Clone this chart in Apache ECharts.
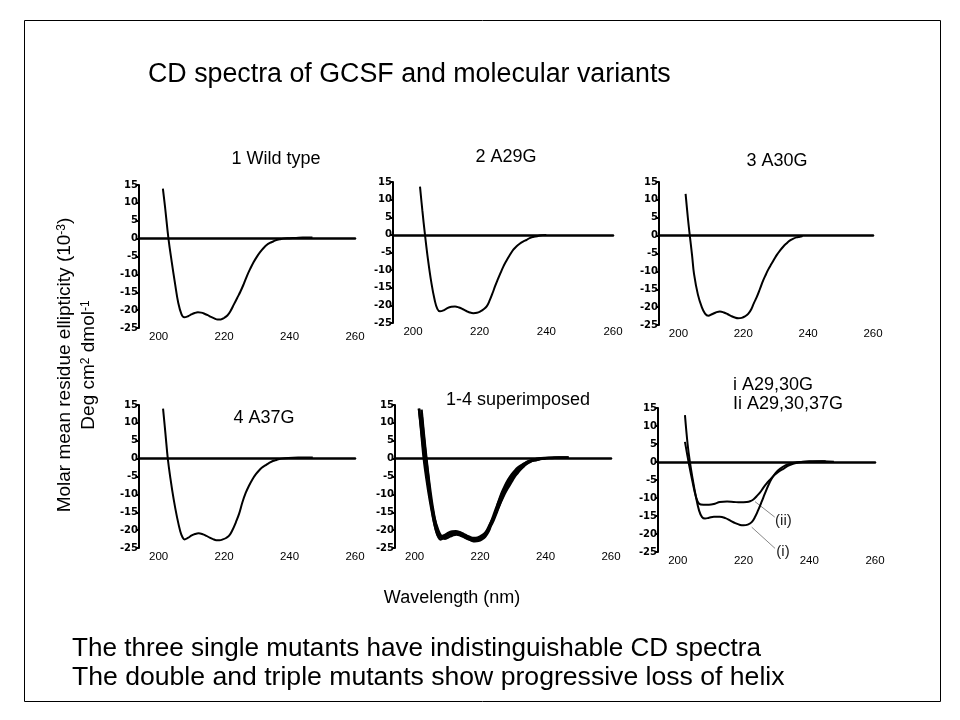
<!DOCTYPE html>
<html>
<head>
<meta charset="utf-8">
<title>CD spectra of GCSF and molecular variants</title>
<script src="https://cdn.jsdelivr.net/npm/echarts@6.0.0/dist/echarts.min.js"></script>
<style>
  html, body { margin: 0; padding: 0; background: #fff; }
  #main { width: 960px; height: 720px; }
</style>
</head>
<body>
<div id="main"></div>
<script>
// [wavelength nm, ellipticity 10^-3]
var wildType = [[201.3, 14], [202, 8.5], [203, 0], [204, -6.5], [205, -12.5], [206, -18], [207, -21.2], [207.8, -22],
  [209, -21.7], [210, -21.2], [211, -20.8], [212, -20.6], [213, -20.7], [214, -21.0], [215, -21.4], [216, -21.9],
  [217, -22.3], [218, -22.6], [219, -22.6], [220, -22.2], [221, -21.5], [222, -20.2], [223, -18.4], [224, -16.6],
  [225, -14.8], [226, -12.7], [227, -10.4], [228, -8.4], [229, -6.6], [230, -5.1], [231, -3.8], [232, -2.7],
  [233, -1.8], [234, -1.2], [235, -0.8], [236, -0.4], [237, -0.2], [238, 0], [240, 0.1], [242, 0.2], [244, 0.3], [247, 0.3]];

var a29g = [[202.1, 13.7], [202.8, 7], [203.6, 0], [204.5, -7], [205.5, -13.5], [206.5, -18.5], [207.3, -21], [208.1, -21.7],
  [209.2, -21.4], [210.3, -20.8], [211.5, -20.4], [212.6, -20.3], [213.8, -20.6], [215, -21.1], [216, -21.6], [217, -22.0],
  [218.1, -22.2], [219.2, -22.1], [220.2, -21.7], [221.2, -21.1], [222.1, -20.3], [223, -18.6], [224, -16.2], [224.6, -14.6],
  [225.5, -12.5], [226.3, -10.7], [227.1, -9.0], [228, -7.4], [229, -5.8], [230.1, -4.2], [231, -3.3], [232, -2.5],
  [233, -1.9], [234.1, -1.4], [235, -0.9], [236, -0.6], [237.1, -0.4], [238, -0.2], [240, 0]];

var a30g = [[202.2, 11.7], [202.9, 5], [203.5, 0], [204.2, -5.5], [204.8, -10.7], [206, -16.5], [207.2, -20], [208.2, -21.8],
  [209.2, -22.4], [210.3, -22.0], [211.5, -21.5], [212.8, -21.2], [214, -21.5], [215.2, -22.0], [216.3, -22.5], [217.4, -22.9],
  [218.4, -23.1], [219.5, -23.0], [220.5, -22.6], [221.5, -21.9], [222.5, -20.5], [223.3, -18.8], [224.1, -17.3], [225.1, -15.0],
  [226.1, -12.6], [227, -10.8], [227.8, -9.3], [228.7, -7.9], [229.6, -6.5], [230.4, -5.3], [231.3, -4.2], [232.3, -3.1],
  [233.3, -2.2], [234.3, -1.4], [235.3, -0.9], [236.4, -0.5], [237.4, -0.3], [238.3, -0.1]];

var a37g = [[201.35, 14], [202.1, 6.8], [202.8, 0], [203.6, -5.5], [204.6, -11.4], [205.6, -16.3], [206.6, -20.3], [207.3, -22.0],
  [207.9, -22.6], [208.9, -22.2], [210.1, -21.5], [211.1, -21.1], [212.2, -20.9], [213.6, -21.2], [214.6, -21.6], [215.6, -22.1],
  [216.6, -22.5], [217.6, -22.8], [218.6, -22.8], [219.6, -22.6], [220.6, -22.2], [221.6, -21.5], [222.6, -19.9], [223.6, -17.8],
  [224.6, -15.4], [225.6, -12.2], [226.6, -9.6], [227.6, -7.6], [228.6, -5.9], [229.6, -4.5], [230.6, -3.4], [231.6, -2.5],
  [232.6, -1.9], [233.6, -1.3], [234.6, -0.8], [235.6, -0.5], [236.6, -0.2], [237.6, 0], [239.6, 0.2], [242.6, 0.3], [247.1, 0.3]];

// (i) double mutant, (ii) triple mutant
var a2930g = [[202.2, 13], [203, 5], [203.7, 0], [204.5, -4.5], [205.5, -9.5], [206.5, -13.5], [207.4, -15.3], [208.3, -15.7],
  [209.5, -15.5], [211, -15.2], [212.8, -15.2], [214.5, -15.6], [216, -16.3], [217.5, -17.0], [219, -17.5], [220, -17.6],
  [221.3, -17.4], [222.5, -16.7], [223.5, -15.3], [224.5, -13.3], [225.5, -11.1], [226.5, -8.8], [227.5, -6.6], [228.6, -4.6],
  [229.8, -3.0], [231.1, -1.9], [232.6, -1.0], [234.1, -0.5], [235.6, -0.2], [237.2, 0], [240, 0.2], [244, 0.2], [247.5, 0.1]];

var a293037g = [[202.2, 5.6], [202.8, 2.5], [203.5, -1], [204.5, -5.5], [205.5, -9.5], [206.5, -11.6], [207.8, -11.9], [209.5, -11.9],
  [211.3, -11.6], [212.8, -11.1], [215, -11.0], [217, -11.1], [219, -11.2], [221, -11.1], [222, -10.9], [223, -10.4],
  [224, -9.5], [225, -8.5], [226, -7.2], [227, -6.0], [228, -5.0], [229, -4.0], [230, -3.2], [231, -2.5],
  [232.1, -1.9], [233.5, -1.1], [235.1, -0.5], [236.5, -0.2], [238, 0], [241, 0.1], [245, 0.2]];

var xTicks = [200, 220, 240, 260];
var xMin = 194, xMax = 260;
var yMin = -25, yMax = 15, yStep = 5;

var FONT = 'Liberation Sans, Arial, sans-serif';

var myChart = echarts.init(document.getElementById('main'));

// one grid per panel
var boxes = [
  { left: 139, top: 185, width: 216, height: 143 },
  { left: 393, top: 182, width: 220, height: 141 },
  { left: 659, top: 182, width: 214, height: 143 },
  { left: 139, top: 405, width: 216, height: 143 },
  { left: 395, top: 405, width: 216, height: 143 },
  { left: 658, top: 408, width: 217, height: 144 }
];

var grids = [], xAxes = [], yAxes = [];
boxes.forEach(function (b, i) {
  grids.push({ left: b.left, top: b.top, width: b.width, height: b.height, containLabel: false });
  xAxes.push({
    gridIndex: i, type: 'value', min: xMin, max: xMax,
    axisLine: { onZero: true, lineStyle: { color: '#000', width: 2.5 } },
    axisTick: { show: false },
    splitLine: { show: false },
    axisLabel: { customValues: xTicks, color: '#000', fontSize: 11.5, fontFamily: FONT, margin: 3 }
  });
  yAxes.push({
    gridIndex: i, type: 'value', min: yMin, max: yMax, interval: yStep,
    axisLine: { show: true, onZero: false, lineStyle: { color: '#000', width: 2 } },
    axisTick: { show: true, length: 3, lineStyle: { color: '#000', width: 2 } },
    splitLine: { show: false },
    axisLabel: { color: '#000', fontSize: 10, fontWeight: 'bold', fontFamily: 'DejaVu Sans, sans-serif', margin: 1 }
  });
});

function curve(data, panel, width) {
  return {
    type: 'line', xAxisIndex: panel, yAxisIndex: panel, data: data,
    showSymbol: false, smooth: 0.4, silent: true,
    lineStyle: { color: '#000', width: width || 2 }
  };
}

var series = [
  curve(wildType, 0), curve(a29g, 1), curve(a30g, 2), curve(a37g, 3),
  curve(wildType, 4, 2.5), curve(a29g, 4, 2.5), curve(a30g, 4, 2.5), curve(a37g, 4, 2.5),
  curve(a2930g, 5), curve(a293037g, 5)
];

var option = {
  backgroundColor: '#fff',
  animation: false,
  grid: grids,
  xAxis: xAxes,
  yAxis: yAxes,
  series: series
};
myChart.setOption(option);

// texts, border and the (i)/(ii) pointers
function txt(s, x, y, size, align, extra) {
  var o = {
    type: 'text', x: x, y: y, silent: true,
    style: { text: s, fill: '#000', fontSize: size, fontFamily: FONT, align: align || 'center', verticalAlign: 'middle' }
  };
  if (extra) { for (var k in extra) o.style[k] = extra[k]; }
  return o;
}

var p6 = function (pt) { return myChart.convertToPixel({ gridIndex: 5 }, pt); };
var lead2a = p6([223.5, -11.0]), lead2b = p6([229.5, -15.3]);
var lead1a = p6([222.5, -18.1]), lead1b = p6([229.6, -24.0]);
var lab2 = p6([229.6, -16.4]), lab1 = p6([230.0, -25.0]);

var supStyle = { sup: { fontSize: 12, fontFamily: FONT, verticalAlign: 'top', fill: '#000' } };

var graphic = [
  { type: 'rect', silent: true, shape: { x: 24.5, y: 20.5, width: 916, height: 681 },
    style: { fill: 'none', stroke: '#000', lineWidth: 1 } },
  txt('CD spectra of GCSF and molecular variants', 148, 75, 26.8, 'left'),
  txt('1 Wild type', 276, 159, 18),
  txt('2 A29G', 506, 157, 18),
  txt('3 A30G', 777, 161, 18),
  txt('4 A37G', 264, 418, 18),
  txt('1-4 superimposed', 518, 400, 18),
  txt('i A29,30G', 733, 385, 18, 'left'),
  txt('Ii A29,30,37G', 733, 404, 18, 'left'),
  txt('Wavelength (nm)', 452, 598, 18),
  txt('The three single mutants have indistinguishable CD spectra', 72, 649, 26.1, 'left'),
  txt('The double and triple mutants show progressive loss of helix', 72, 678, 26.6, 'left'),
  {
    type: 'text', x: 65, y: 365, rotation: Math.PI / 2, silent: true,
    style: {
      text: 'Molar mean residue ellipticity (10{sup|-3})', fill: '#000', fontSize: 19, fontFamily: FONT,
      align: 'center', verticalAlign: 'middle', rich: supStyle
    }
  },
  {
    type: 'text', x: 89, y: 365, rotation: Math.PI / 2, silent: true,
    style: {
      text: 'Deg cm{sup|2} dmol{sup|-1}', fill: '#000', fontSize: 19, fontFamily: FONT,
      align: 'center', verticalAlign: 'middle', rich: supStyle
    }
  },
  { type: 'line', silent: true, shape: { x1: lead2a[0], y1: lead2a[1], x2: lead2b[0], y2: lead2b[1] },
    style: { stroke: '#888', lineWidth: 1 } },
  { type: 'line', silent: true, shape: { x1: lead1a[0], y1: lead1a[1], x2: lead1b[0], y2: lead1b[1] },
    style: { stroke: '#888', lineWidth: 1 } },
  txt('(ii)', lab2[0], lab2[1], 15, 'left', { fill: '#222' }),
  txt('(i)', lab1[0], lab1[1], 15, 'left', { fill: '#222' })
];

myChart.setOption({ graphic: graphic });
</script>
</body>
</html>
